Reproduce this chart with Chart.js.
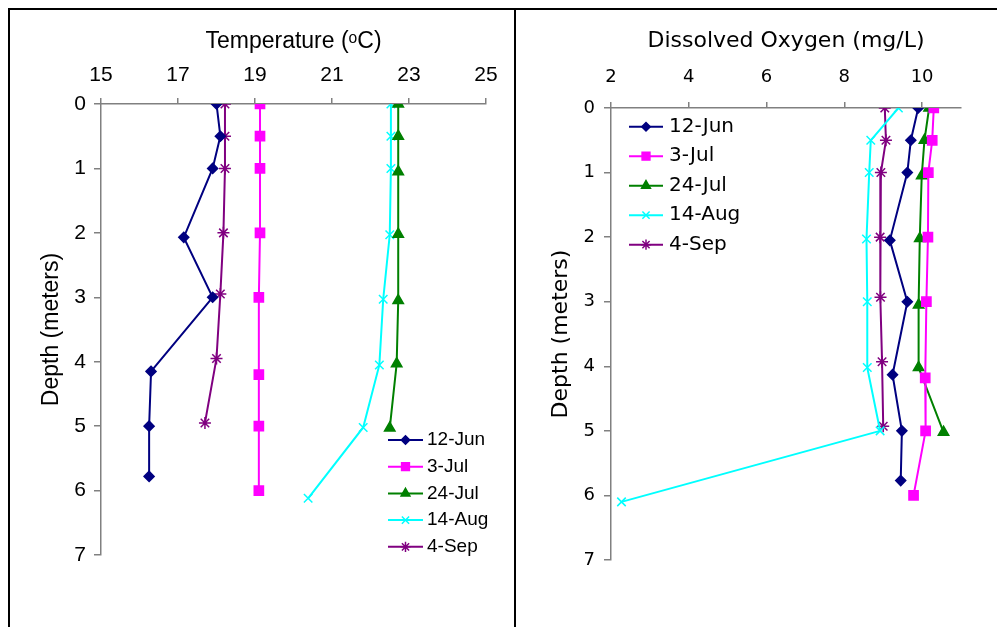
<!DOCTYPE html>
<html>
<head>
<meta charset="utf-8">
<script src="https://cdn.jsdelivr.net/npm/chart.js@4/dist/chart.umd.min.js"></script>
<style>
  html, body { margin: 0; padding: 0; background: #fff; }
  body { width: 997px; height: 627px; position: relative; overflow: hidden; }
  .frame { position: absolute; left: 8px; top: 8px; width: 989px; height: 619px;
           border-top: 2px solid #000; border-left: 2px solid #000; box-sizing: border-box; }
  .divider { position: absolute; left: 514px; top: 8px; width: 2px; height: 619px; background: #000; }
  #temp-chart { position: absolute; left: 10px; top: 10px; }
  #do-chart   { position: absolute; left: 516px; top: 10px; }
</style>
</head>
<body>
<div class="frame"></div>
<div class="divider"></div>
<canvas id="temp-chart" width="504" height="617"></canvas>
<canvas id="do-chart" width="481" height="617"></canvas>
<script>
// Depth profiles, one array pair per sampling date

const seriesNames = ['12-Jun', '3-Jul', '24-Jul', '14-Aug', '4-Sep'];

// ── Temperature (deg C) vs depth (m) ─────────────
const tempDepth12Jun = [0, 0.5, 1, 2.07, 3, 4.15, 5, 5.78];
const temp12Jun      = [18.0, 18.1, 17.9, 17.15, 17.9, 16.3, 16.25, 16.25];
const tempDepth3Jul  = [0, 0.5, 1, 2, 3, 4.2, 5, 6];
const temp3Jul       = [19.13, 19.13, 19.13, 19.13, 19.1, 19.1, 19.1, 19.1];
const tempDepth24Jul = [0, 0.5, 1.05, 2.02, 3.05, 4.03, 5.03];
const temp24Jul      = [22.72, 22.72, 22.72, 22.72, 22.72, 22.68, 22.5];
const tempDepth14Aug = [0, 0.5, 1, 2.03, 3.03, 4.05, 5.02, 6.12];
const temp14Aug      = [22.53, 22.53, 22.53, 22.5, 22.33, 22.23, 21.81, 20.38];
const tempDepth4Sep  = [0, 0.5, 1, 2, 2.95, 3.95, 4.95];
const temp4Sep       = [18.22, 18.22, 18.22, 18.18, 18.1, 18.0, 17.7];

// ── Dissolved oxygen (mg/L) vs depth (m) ─────────
const doDepth12Jun = [0, 0.5, 1, 2.05, 3, 4.13, 5, 5.77];
const do12Jun      = [9.9, 9.71, 9.62, 9.17, 9.62, 9.24, 9.48, 9.45];
const doDepth3Jul  = [0, 0.5, 1, 2, 3, 4.18, 5, 6];
const do3Jul       = [10.3, 10.26, 10.16, 10.15, 10.11, 10.08, 10.09, 9.78];
const doDepth24Jul = [0, 0.5, 1.05, 2.02, 3.05, 4.02, 5.02];
const do24Jul      = [10.18, 10.06, 9.99, 9.94, 9.91, 9.91, 10.55];
const doDepth14Aug = [0, 0.5, 1, 2.03, 3, 4.02, 5, 6.1];
const do14Aug      = [9.39, 8.68, 8.64, 8.57, 8.59, 8.59, 8.92, 2.27];
const doDepth4Sep  = [0, 0.5, 1, 2, 2.93, 3.93, 4.93];
const do4Sep       = [9.04, 9.07, 8.94, 8.92, 8.93, 8.97, 9.0];

// ── Tick labels ──────────────────────────────────
const tempTicks  = [15, 17, 19, 21, 23, 25];
const doTicks    = [2, 4, 6, 8, 10];
const depthTicks = [0, 1, 2, 3, 4, 5, 6, 7];

// ── Styles ───────────────────────────────────────
const styles = [
  { color: '#000080', pointStyle: 'rectRot',  radius: 5   },
  { color: '#ff00ff', pointStyle: 'rect',     radius: 6.5 },
  { color: '#008000', pointStyle: 'triangle', radius: 6   },
  { color: '#00ffff', pointStyle: 'crossRot', radius: 6   },
  { color: '#800080', pointStyle: 'star',     radius: 6   }
];

const ARIAL   = "'Liberation Sans', Arial, sans-serif";
const VERDANA = "'DejaVu Sans', Verdana, sans-serif";
const AXIS_GREY = '#808080';

function zip(xs, ys) {
  return xs.map((x, i) => ({ x, y: ys[i] }));
}

function makeDatasets(pairs) {
  return pairs.map(([xs, ys], i) => {
    const s = styles[i];
    return {
      label: seriesNames[i],
      data: zip(xs, ys),
      showLine: true,
      borderColor: s.color,
      backgroundColor: s.color,
      borderWidth: 2,
      pointStyle: s.pointStyle,
      pointRadius: s.radius,
      pointHoverRadius: s.radius,
      pointBorderWidth: 1.5,
      pointBackgroundColor: s.color,
      pointBorderColor: s.color
    };
  });
}

// legend drawn at a fixed spot inside the canvas
function legendPlugin(opts) {
  return {
    id: 'fixedLegend',
    afterDatasetsDraw(chart) {
      const ctx = chart.ctx;
      ctx.save();
      seriesNames.forEach((name, i) => {
        const s = styles[i];
        const y = opts.y + i * opts.gap;
        ctx.strokeStyle = s.color;
        ctx.fillStyle = s.color;
        ctx.lineWidth = 2;
        ctx.beginPath();
        ctx.moveTo(opts.x1, y);
        ctx.lineTo(opts.x2, y);
        ctx.stroke();
        ctx.lineWidth = 1.5;
        Chart.helpers.drawPoint(ctx, {
          pointStyle: s.pointStyle,
          radius: s.radius * 0.85,
          borderWidth: 1.5,
          rotation: 0
        }, (opts.x1 + opts.x2) / 2, y);
        ctx.fillStyle = '#000';
        ctx.font = opts.fontSize + 'px ' + opts.family;
        ctx.textAlign = 'left';
        ctx.textBaseline = 'middle';
        ctx.fillText(name, opts.textX, y);
      });
      ctx.restore();
    }
  };
}

function buildChart(el, cfg) {
  const tickFont  = { family: cfg.family, size: cfg.tickSize };
  const titleFont = { family: cfg.family, size: cfg.titleSize };
  return new Chart(el, {
    type: 'scatter',
    data: { datasets: makeDatasets(cfg.pairs) },
    options: {
      responsive: false,
      animation: false,
      layout: { padding: cfg.padding },
      plugins: { legend: { display: false }, tooltip: { enabled: false } },
      scales: {
        x: {
          type: 'linear',
          position: 'top',
          min: cfg.xMin,
          max: cfg.xMax,
          afterBuildTicks: s => { s.ticks = cfg.xTicks.map(v => ({ value: v })); },
          afterFit: s => { s.height = cfg.xAxisHeight; },
          ticks: { color: '#000', font: tickFont, padding: cfg.xTickPad },
          grid: { drawOnChartArea: false, drawTicks: true, tickLength: 6, color: AXIS_GREY, lineWidth: 1.5 },
          border: { color: AXIS_GREY, width: 1.5 },
          title: { display: true, text: cfg.xTitle, color: '#000', font: titleFont,
                   padding: { top: cfg.xTitlePad, bottom: 0 } }
        },
        y: {
          type: 'linear',
          reverse: true,
          min: 0,
          max: 7,
          afterBuildTicks: s => { s.ticks = depthTicks.map(v => ({ value: v })); },
          afterFit: s => { s.width = cfg.yAxisWidth; },
          ticks: { color: '#000', font: tickFont, padding: cfg.yTickPad },
          grid: { drawOnChartArea: false, drawTicks: true, tickLength: 7, color: AXIS_GREY, lineWidth: 1.5 },
          border: { color: AXIS_GREY, width: 1.5 },
          title: { display: true, text: 'Depth (meters)', color: '#000', font: titleFont,
                   padding: { top: cfg.yTitlePad, bottom: 0 } }
        }
      }
    },
    plugins: [legendPlugin(cfg.legend)]
  });
}

buildChart(document.getElementById('temp-chart'), {
  family: ARIAL, tickSize: 21, titleSize: 23,
  pairs: [[temp12Jun, tempDepth12Jun], [temp3Jul, tempDepth3Jul], [temp24Jul, tempDepth24Jul],
          [temp14Aug, tempDepth14Aug], [temp4Sep, tempDepth4Sep]],
  xMin: 15, xMax: 25, xTicks: tempTicks,
  xTitle: 'Temperature (\u1D52C)',
  padding: { left: 0, top: 0, right: 28, bottom: 72 },
  xAxisHeight: 94, yAxisWidth: 91,
  xTickPad: 10, yTickPad: 8, xTitlePad: 18, yTitlePad: 28,
  legend: { x1: 378, x2: 413, textX: 417, y: 430, gap: 26.7, fontSize: 19, family: ARIAL }
});

buildChart(document.getElementById('do-chart'), {
  family: VERDANA, tickSize: 18, titleSize: 22,
  pairs: [[do12Jun, doDepth12Jun], [do3Jul, doDepth3Jul], [do24Jul, doDepth24Jul],
          [do14Aug, doDepth14Aug], [do4Sep, doDepth4Sep]],
  xMin: 2, xMax: 11, xTicks: doTicks,
  xTitle: 'Dissolved Oxygen (mg/L)',
  padding: { left: 0, top: 0, right: 36, bottom: 67 },
  xAxisHeight: 98, yAxisWidth: 95,
  xTickPad: 14, yTickPad: 9, xTitlePad: 18, yTitlePad: 32,
  legend: { x1: 113, x2: 147, textX: 153, y: 116.7, gap: 29.5, fontSize: 20, family: VERDANA }
});
</script>
</body>
</html>
